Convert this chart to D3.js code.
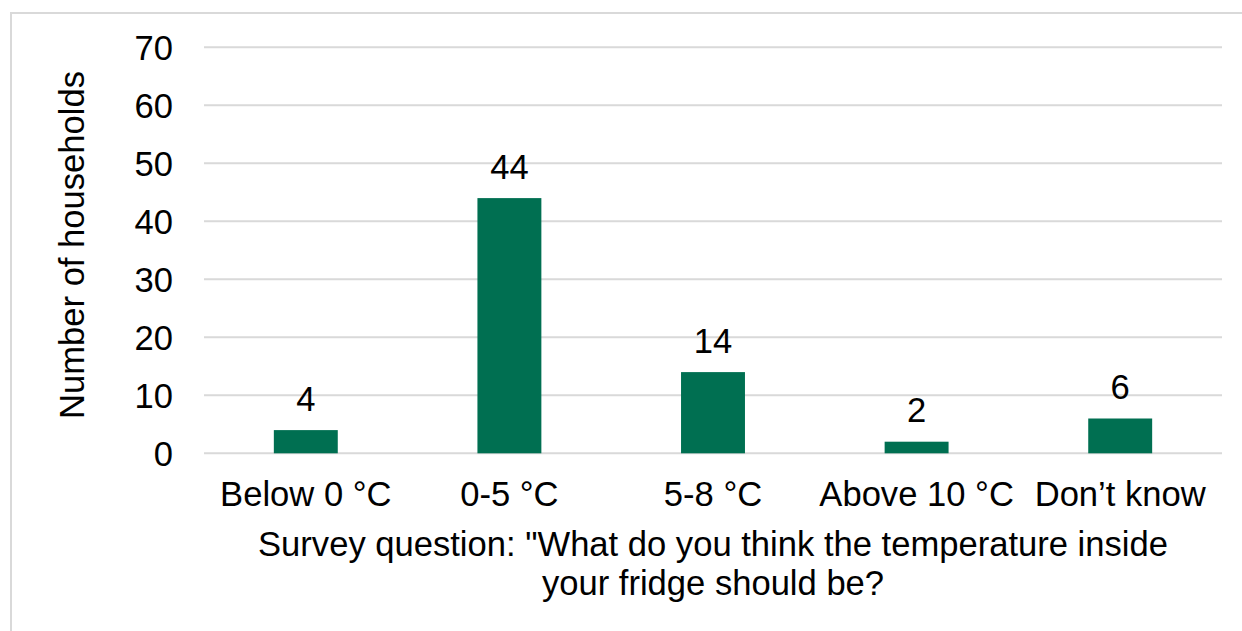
<!DOCTYPE html>
<html>
<head>
<meta charset="utf-8">
<script src="https://cdn.jsdelivr.net/npm/d3@7"></script>
<style>
  html, body { margin: 0; padding: 0; background: #fff; }
  svg { display: block; font-family: "Liberation Sans", Arial, sans-serif; }
</style>
</head>
<body>
<svg id="chart" width="1242" height="631"></svg>
<script>
// Survey answers: preferred fridge temperature
const categories = ["Below 0 °C", "0-5 °C", "5-8 °C", "Above 10 °C", "Don’t know"];
const households = [4, 44, 14, 2, 6];
const yTicks = [0, 10, 20, 30, 40, 50, 60, 70];
const yTitle = "Number of households";
const xTitleLines = ["Survey question: \"What do you think the temperature inside", "your fridge should be?"];

const W = 1242, H = 631;
const plot = { left: 204, right: 1222, top: 47.3, bottom: 453.3 };
const fontSize = 34.6;
const barColor = "#006f51";
const gridColor = "#d9d9d9";

const svg = d3.select("#chart");

// Chart area frame
svg.append("rect")
  .attr("x", 11).attr("y", 13)
  .attr("width", W + 10).attr("height", H + 10)
  .attr("fill", "#fff")
  .attr("stroke", gridColor).attr("stroke-width", 2);

const x = d3.scaleBand().domain(categories).range([plot.left, plot.right]).padding(0);
const y = d3.scaleLinear().domain([0, 70]).range([plot.bottom, plot.top]);

// Horizontal gridlines
svg.append("g").selectAll("line").data(yTicks).join("line")
  .attr("x1", plot.left).attr("x2", plot.right)
  .attr("y1", d => y(d)).attr("y2", d => y(d))
  .attr("stroke", gridColor).attr("stroke-width", 2);

// Y axis tick labels
const yAxis = d3.axisLeft(y).tickValues(yTicks).tickSize(0).tickPadding(0);
const gy = svg.append("g").attr("transform", "translate(173,0)").call(yAxis);
gy.select(".domain").remove();
gy.selectAll("text")
  .attr("font-size", fontSize).attr("font-family", "Liberation Sans, Arial, sans-serif")
  .attr("fill", "#000").attr("dy", "0.35em");

// Bars
const barW = x.bandwidth() * 0.314;
svg.append("g").selectAll("rect").data(households).join("rect")
  .attr("x", (d, i) => x(categories[i]) + x.bandwidth() / 2 - barW / 2)
  .attr("y", d => y(d))
  .attr("width", barW)
  .attr("height", d => y(0) - y(d))
  .attr("fill", barColor);

// Value labels above bars
svg.append("g").selectAll("text").data(households).join("text")
  .attr("x", (d, i) => x(categories[i]) + x.bandwidth() / 2)
  .attr("y", d => y(d) - 19.5)
  .attr("text-anchor", "middle")
  .attr("font-size", fontSize).attr("fill", "#000")
  .text(d => d);

// Category labels
const xAxis = d3.axisBottom(x).tickSize(0).tickPadding(0);
const gx = svg.append("g").attr("transform", "translate(0,506)").call(xAxis);
gx.select(".domain").remove();
gx.selectAll("text")
  .attr("font-size", fontSize).attr("font-family", "Liberation Sans, Arial, sans-serif")
  .attr("fill", "#000").attr("dy", 0).attr("y", 0);

// Y axis title
svg.append("text")
  .attr("transform", `translate(84,${(72 + 418) / 2}) rotate(-90)`)
  .attr("text-anchor", "middle")
  .attr("font-size", fontSize).attr("fill", "#000")
  .text(yTitle);

// X axis title (two lines)
svg.append("text")
  .attr("text-anchor", "middle")
  .attr("font-size", fontSize).attr("fill", "#000")
  .selectAll("tspan").data(xTitleLines).join("tspan")
  .attr("x", (plot.left + plot.right) / 2)
  .attr("y", (d, i) => 556 + i * 39)
  .text(d => d);
</script>
</body>
</html>
